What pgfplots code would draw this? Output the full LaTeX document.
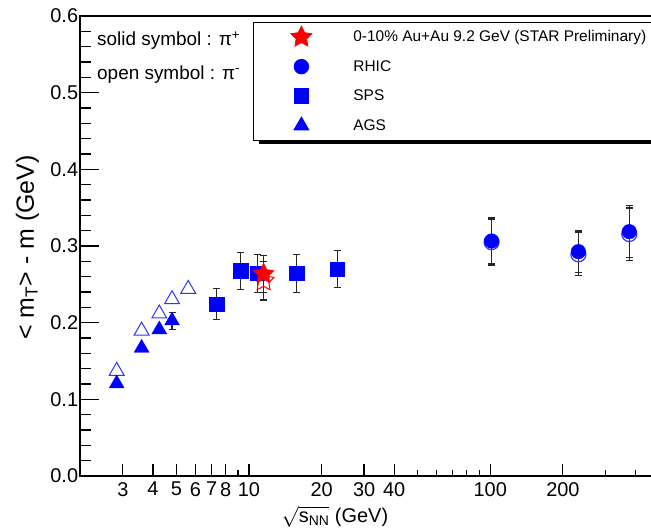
\documentclass[border=0pt]{standalone}
\usepackage{fontspec}
\setmainfont{Liberation Sans}
\usepackage{amsmath}
\usepackage{pgfplots}
\usepackage{pgfplotstable}
\pgfplotsset{compat=1.18}

% filled and open five-pointed stars
\pgfdeclareplotmark{fivestar}{%
  \pgfpathmoveto{\pgfpointpolar{90}{\pgfplotmarksize}}%
  \pgfpathlineto{\pgfpointpolar{126}{0.5\pgfplotmarksize}}%
  \pgfpathlineto{\pgfpointpolar{162}{\pgfplotmarksize}}%
  \pgfpathlineto{\pgfpointpolar{198}{0.5\pgfplotmarksize}}%
  \pgfpathlineto{\pgfpointpolar{234}{\pgfplotmarksize}}%
  \pgfpathlineto{\pgfpointpolar{270}{0.5\pgfplotmarksize}}%
  \pgfpathlineto{\pgfpointpolar{306}{\pgfplotmarksize}}%
  \pgfpathlineto{\pgfpointpolar{342}{0.5\pgfplotmarksize}}%
  \pgfpathlineto{\pgfpointpolar{18}{\pgfplotmarksize}}%
  \pgfpathlineto{\pgfpointpolar{54}{0.5\pgfplotmarksize}}%
  \pgfpathclose
  \pgfusepathqfillstroke
}
\pgfdeclareplotmark{fivestaro}{%
  \pgfpathmoveto{\pgfpointpolar{90}{\pgfplotmarksize}}%
  \pgfpathlineto{\pgfpointpolar{126}{0.5\pgfplotmarksize}}%
  \pgfpathlineto{\pgfpointpolar{162}{\pgfplotmarksize}}%
  \pgfpathlineto{\pgfpointpolar{198}{0.5\pgfplotmarksize}}%
  \pgfpathlineto{\pgfpointpolar{234}{\pgfplotmarksize}}%
  \pgfpathlineto{\pgfpointpolar{270}{0.5\pgfplotmarksize}}%
  \pgfpathlineto{\pgfpointpolar{306}{\pgfplotmarksize}}%
  \pgfpathlineto{\pgfpointpolar{342}{0.5\pgfplotmarksize}}%
  \pgfpathlineto{\pgfpointpolar{18}{\pgfplotmarksize}}%
  \pgfpathlineto{\pgfpointpolar{54}{0.5\pgfplotmarksize}}%
  \pgfpathclose
  \pgfusepathqstroke
}

% AGS, pi+ (solid)
\pgfplotstableread{
x y
2.83 0.1205
3.59 0.1670
4.25 0.1910
}\agsPlusA
\pgfplotstableread{
x y ey
4.80 0.2026 0.011
}\agsPlusB
% AGS, pi- (open)
\pgfplotstableread{
x y
2.83 0.1370
3.59 0.1895
4.25 0.2117
4.80 0.2304
5.60 0.2439
}\agsMinus
% SPS
\pgfplotstableread{
x y ey
7.35 0.2243 0.0207
9.24 0.2674 0.0240
10.82 0.2644 0.0245
15.77 0.2644 0.0245
23.2 0.2700 0.0240
}\sps
% RHIC
\pgfplotstableread{
x y ey
101.3 0.3065 0.030
231.9 0.2926 0.027
376.8 0.3187 0.034
}\rhicPlus
\pgfplotstableread{
x y ey
101.3 0.3050 0.030
231.9 0.2891 0.028
376.8 0.3156 0.034
}\rhicMinus
% STAR 9.2 GeV
\pgfplotstableread{
x y ey
11.5 0.2635 0.0245
}\starPlus
\pgfplotstableread{
x y ey
11.5 0.2546 0.0250
}\starMinus

\pgfplotsset{
  ebar/.style={error bars/.cd, y dir=both, y explicit,
    error bar style={black!85, line width=1.1bp},
    error mark options={rotate=90, black!85, mark size=3.5bp, line width=1.1bp}},
}

\begin{document}
\begin{tikzpicture}
\begin{axis}[
  at={(0,0)}, anchor=south west,
  scale only axis, width=578.6bp, height=460bp,
  xmode=log, xmin=2, xmax=500, ymin=0, ymax=0.6,
  axis line style={line width=1.8bp},
  tick pos=left, tick align=inside,
  every tick/.style={black, line width=1.2bp},
  major tick length=19bp, minor tick length=10.5bp,
  x tick style={/pgfplots/major tick length=12bp, /pgfplots/minor tick length=6bp},
  xtick={10,100}, xticklabels={10,100},
  minor xtick={2,3,4,5,6,7,8,9,20,30,40,50,60,70,80,90,200,300,400,500},
  extra x ticks={3,4,5,6,7,8,20,30,40,200},
  extra x tick labels={3,4,5,6,7,8,20,30,40,200},
  extra x tick style={/pgfplots/major tick length=0bp},
  ytick={0,0.1,0.2,0.3,0.4,0.5,0.6},
  yticklabels={0.0,0.1,0.2,0.3,0.4,0.5,0.6},
  minor y tick num=4,
  /pgf/number format/assume math mode=true,
  ticklabel style={font=\fontsize{20}{24}\selectfont},
  yticklabel style={inner xsep=2bp},
  xticklabel style={inner ysep=6bp},
  xlabel={$\sqrt{\text{s}_{\text{NN}}}$ (GeV)},
  xlabel style={font=\fontsize{20}{24}\selectfont, at={(axis description cs:0.44,-0.089)}, anchor=center},
  ylabel={< m\textsubscript{T}> - m (GeV)},
  ylabel style={font=\fontsize{25}{29}\selectfont, at={(axis description cs:-0.0913,0.4967)}, anchor=center},
  legend style={at={(rel axis cs:0.2985,0.987)}, anchor=north west,
    name=leg,
    draw=black, line width=0.8bp, fill=white,
    inner xsep=10bp, inner ysep=0bp, row sep=0bp,
    font=\fontsize{15.5}{19}\selectfont,
    nodes={inner xsep=4bp, inner ysep=0bp, anchor=west}},
  legend cell align=left,
  legend image code/.code={%
    \path[draw=none, fill=none] (0bp,-14.75bp) rectangle (86bp,14.75bp);
    \draw[#1] plot coordinates {(38bp,0bp)};},
]
% open symbols (pi-)
\addplot[only marks, mark=triangle, mark size=8.6bp, blue!80, line width=1bp, forget plot]
  table[x=x,y=y] {\agsMinus};
\addplot[only marks, mark=o, mark size=7.5bp, blue!80, line width=1.2bp, forget plot, ebar]
  table[x=x,y=y,y error=ey] {\rhicMinus};
\addplot[only marks, mark=fivestaro, mark size=11bp, red, line width=1bp, forget plot, ebar]
  table[x=x,y=y,y error=ey] {\starMinus};
% solid symbols (pi+)
\addplot[only marks, mark=triangle*, mark size=8.6bp, blue, forget plot]
  table[x=x,y=y] {\agsPlusA};
\addplot[only marks, mark=triangle*, mark size=8.6bp, blue, forget plot, ebar]
  table[x=x,y=y,y error=ey] {\agsPlusB};
\addplot[only marks, mark=square*, mark size=7.3bp, blue, forget plot, ebar]
  table[x=x,y=y,y error=ey] {\sps};
\addplot[only marks, mark=*, mark size=7.3bp, blue, forget plot, ebar]
  table[x=x,y=y,y error=ey] {\rhicPlus};
\addplot[only marks, mark=fivestar, mark size=11bp, red, forget plot, ebar]
  table[x=x,y=y,y error=ey] {\starPlus};

\addlegendimage{only marks, mark=fivestar, mark size=11bp, red}
\addlegendentry{0-10\% Au+Au 9.2 GeV (STAR Preliminary)}
\addlegendimage{only marks, mark=*, mark size=7.3bp, blue}
\addlegendentry{RHIC}
\addlegendimage{only marks, mark=square*, mark size=7.3bp, blue}
\addlegendentry{SPS}
\addlegendimage{only marks, mark=triangle*, mark size=8.6bp, blue}
\addlegendentry{AGS}

\node[anchor=base west, font=\fontsize{19}{22}\selectfont, inner sep=0pt]
  at (axis description cs:0.0289,0.9354) {solid symbol : π\textsuperscript{+}};
\node[anchor=base west, font=\fontsize{19}{22}\selectfont, inner sep=0pt]
  at (axis description cs:0.0289,0.863) {open symbol : π\textsuperscript{-}};
\end{axis}
% shadow strip under the legend box
\fill[black] ([xshift=6bp, yshift=-3.5bp]leg.south west) rectangle ([xshift=6bp]leg.south east);
\fill[black] ([xshift=0.4bp, yshift=-3.5bp]leg.south east) rectangle ([xshift=6bp, yshift=-4bp]leg.north east);
\pgfresetboundingbox
\path[use as bounding box] (-80.3bp,-56bp) rectangle (570.7bp,476bp);
\end{tikzpicture}
\end{document}
